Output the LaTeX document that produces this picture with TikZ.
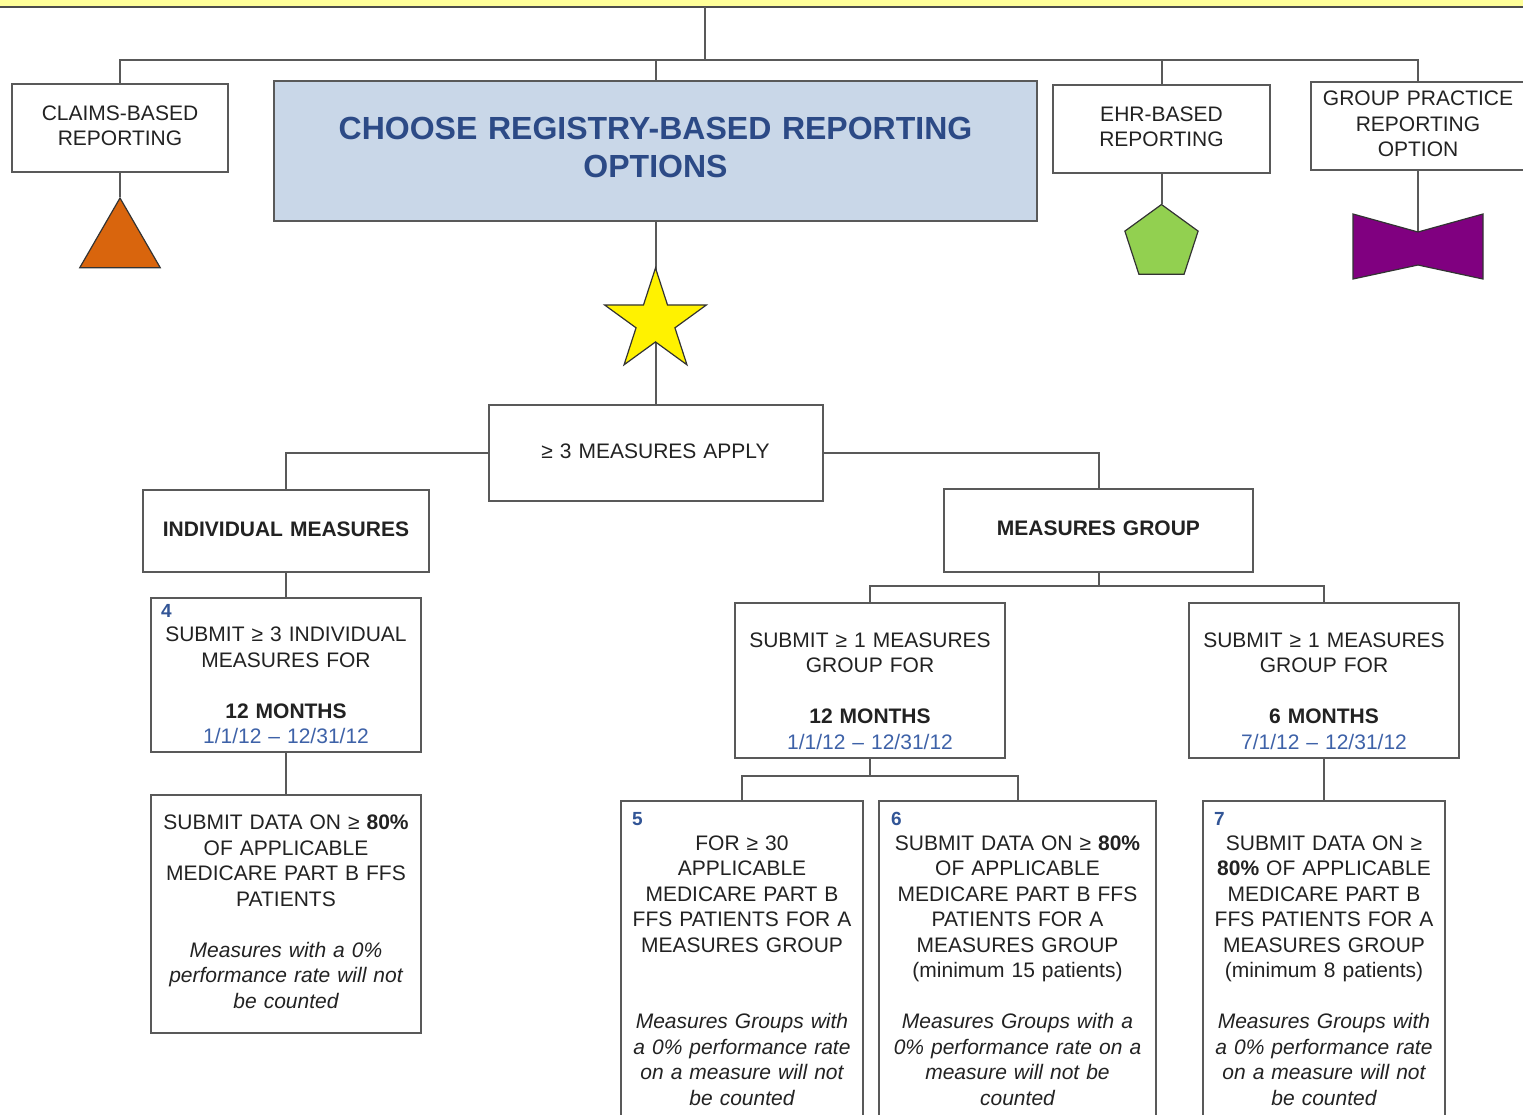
\documentclass[tikz,border=0pt]{standalone}
\usepackage{fontspec}
\setmainfont{Liberation Sans}
\usetikzlibrary{shapes.geometric}

\definecolor{bandyellow}{RGB}{255,255,153}
\definecolor{headblue}{RGB}{201,215,232}
\definecolor{titleblue}{RGB}{44,74,134}
\definecolor{dateblue}{RGB}{62,98,168}
\definecolor{numblue}{RGB}{50,85,150}
\definecolor{inkgray}{RGB}{34,34,34}
\definecolor{claimorange}{RGB}{217,101,13}
\definecolor{ehrgreen}{RGB}{146,208,80}
\definecolor{gpropurple}{RGB}{128,0,128}
\newcommand{\rulegray}{black!65}
\newcommand{\dates}[1]{\textcolor{dateblue}{#1}}
\tikzset{
  optbox/.style={draw=\rulegray, fill=white, inner sep=0pt, align=center, text=inkgray,
    font=\fontsize{10.5}{12.75}\selectfont, execute at begin node=\strut, execute at end node=\strut},
  sized/.style 2 args={minimum width=#1, text width=#1, minimum height=#2},
  headbox/.style={optbox, font=\fontsize{10.5}{12.75}\selectfont\bfseries},
  tallbox/.style={optbox, anchor=north, inner ysep=3pt, text depth=175pt},
  numlbl/.style={anchor=north west, inner sep=0pt, text=numblue, font=\fontsize{9.5}{10}\selectfont\bfseries},
  link/.style={draw=\rulegray},
  badge/.style={draw=black!80, line width=0.6pt, inner sep=0pt}
}

\begin{document}
\begin{tikzpicture}[x=0.5pt, y=-0.5pt, line width=1pt]
\useasboundingbox (0,0) rectangle (1523,1115);
\clip (0,0) rectangle (1523,1115);

\fill[bandyellow] (-10,-10) rectangle (1533,7);
\draw[black!70] (-10,7) -- (1533,7);
\coordinate (trunk) at (705,7);
\coordinate (bus) at (705,60);

\node[optbox, sized={108pt}{44pt}] (claims) at (120,128) {CLAIMS-BASED\\REPORTING};
\node[optbox, sized={381.5pt}{70pt}, fill=headblue, text=titleblue, font=\fontsize{16}{19}\selectfont\bfseries] (main) at (655.5,151) {CHOOSE REGISTRY-BASED REPORTING\\OPTIONS};
\node[optbox, sized={108.5pt}{44pt}] (ehr) at (1161.5,129) {EHR-BASED\\REPORTING};
\node[optbox, sized={107pt}{44pt}] (group) at (1418,126) {GROUP PRACTICE\\REPORTING\\OPTION};

\draw[link] (trunk) -- (bus);
\draw[link] (claims.north) |- (bus) -| (group.north);
\draw[link] (main.north) -- (main.north |- bus);
\draw[link] (ehr.north) -- (ehr.north |- bus);

\node[badge, regular polygon, regular polygon sides=3, minimum size=46.5pt, fill=claimorange] (tri) at (120,244.5) {};
\node[badge, regular polygon, regular polygon sides=5, minimum size=38.5pt, fill=ehrgreen] (pent) at (1161.5,243) {};
\coordinate (bow) at (1418,232);
\draw[link] (claims.south) -- (tri.north);
\draw[link] (ehr.south) -- (pent.north);
\draw[link] (group.south) -- (bow);
\filldraw[fill=gpropurple, draw=black!80, line width=0.6pt] (1353,214) -- (bow) -- (1483,214) -- (1483,279) -- (1418,265) -- (1353,279) -- cycle;

\node[optbox, sized={167pt}{48pt}] (apply) at (655.5,453) {≥ 3 MEASURES APPLY};
\draw[link] (main.south) -- (apply.north);
\node[badge, star, star points=5, star point ratio=2.618, minimum size=53.5pt, fill=yellow] (star) at (655.5,321.5) {};

\node[headbox, sized={143pt}{41pt}] (indiv) at (286,531) {INDIVIDUAL MEASURES};
\node[headbox, sized={154.5pt}{41.5pt}] (mgroup) at (1098.5,530.5) {MEASURES GROUP};
\draw[link] (apply.west) -| (indiv.north);
\draw[link] (apply.east) -| (mgroup.north);

\node[optbox, sized={135pt}{77pt}] (indivyear) at (286,675) {\mbox{}\\SUBMIT ≥ 3 INDIVIDUAL\\MEASURES FOR\\[12.75pt]\textbf{12 MONTHS}\\\dates{1/1/12 – 12/31/12}};
\node[numlbl] (n4) at ([shift={(5pt,-3pt)}]indivyear.north west) {4};
\node[optbox, sized={135pt}{119pt}] (indivdata) at (286,914) {SUBMIT DATA ON ≥ \textbf{80\%}\\OF APPLICABLE\\MEDICARE PART B FFS\\PATIENTS\\[12.75pt]{\itshape Measures with a 0\%\\performance rate will not\\be counted}};
\draw[link] (indiv.south) -- (indivyear.north);
\draw[link] (indivyear.south) -- (indivdata.north);

\node[optbox, sized={135pt}{77.5pt}] (groupyear) at (870,680.5) {\mbox{}\\SUBMIT ≥ 1 MEASURES\\GROUP FOR\\[12.75pt]\textbf{12 MONTHS}\\\dates{1/1/12 – 12/31/12}};
\node[optbox, sized={135pt}{77.5pt}] (grouphalf) at (1324,680.5) {\mbox{}\\SUBMIT ≥ 1 MEASURES\\GROUP FOR\\[12.75pt]\textbf{6 MONTHS}\\\dates{7/1/12 – 12/31/12}};
\coordinate (mgbus) at (1098.5,586);
\draw[link] (mgroup.south) -- (mgbus);
\draw[link] (groupyear.north) |- (mgbus) -| (grouphalf.north);

\node[tallbox, text width=121pt, minimum width=121pt] (groupthirty) at (742,800) {\mbox{}\\FOR ≥ 30\\APPLICABLE\\MEDICARE PART B\\FFS PATIENTS FOR A\\MEASURES GROUP\\[25.5pt]{\itshape Measures Groups with\\a 0\% performance rate\\on a measure will not\\be counted}};
\node[tallbox, text width=138.5pt, minimum width=138.5pt] (groupeighty) at (1017.5,800) {\mbox{}\\SUBMIT DATA ON ≥ \textbf{80\%}\\OF APPLICABLE\\MEDICARE PART B FFS\\PATIENTS FOR A\\MEASURES GROUP\\(minimum 15 patients)\\[12.75pt]{\itshape Measures Groups with a\\0\% performance rate on a\\measure will not be\\counted}};
\node[tallbox, text width=121pt, minimum width=121pt] (halfeighty) at (1324,800) {\mbox{}\\SUBMIT DATA ON ≥\\\textbf{80\%} OF APPLICABLE\\MEDICARE PART B\\FFS PATIENTS FOR A\\MEASURES GROUP\\(minimum 8 patients)\\[12.75pt]{\itshape Measures Groups with\\a 0\% performance rate\\on a measure will not\\be counted}};
\node[numlbl] (n5) at ([shift={(5.5pt,-5.5pt)}]groupthirty.north west) {5};
\node[numlbl] (n6) at ([shift={(6pt,-5.5pt)}]groupeighty.north west) {6};
\node[numlbl] (n7) at ([shift={(5.5pt,-5.5pt)}]halfeighty.north west) {7};
\coordinate (yrbus) at (870,776);
\draw[link] (groupyear.south) -- (yrbus);
\draw[link] (groupthirty.north) |- (yrbus) -| (groupeighty.north);
\draw[link] (grouphalf.south) -- (halfeighty.north);
\end{tikzpicture}
\end{document}
